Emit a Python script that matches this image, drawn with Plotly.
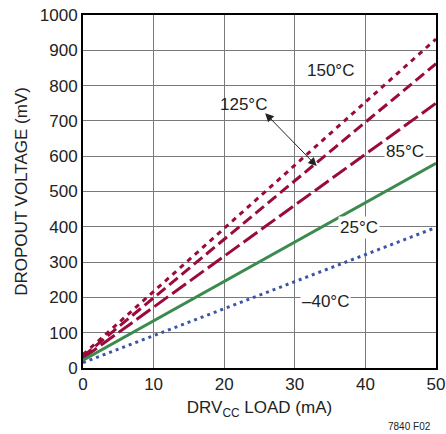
import plotly.graph_objects as go

# Dropout voltage vs DRVcc load, one straight-ish line per temperature
load_ma = [0, 50]
temps = ["150°C", "125°C", "85°C", "25°C", "–40°C"]
dropout_mv = {
    "150°C": [38, 932],
    "125°C": [33, 862],
    "85°C": [28, 750],
    "25°C": [22, 580],
    "–40°C": [15, 398],
}
x_ticks = [0, 10, 20, 30, 40, 50]
y_ticks = list(range(0, 1001, 100))

RED = "#9a0a3a"
styles = {
    "150°C": dict(color=RED, dash="5px,5px", width=3),
    "125°C": dict(color=RED, dash="11px,5px", width=3),
    "85°C": dict(color=RED, dash="17px,5px", width=3),
    "25°C": dict(color="#3b8a4e", dash="solid", width=3),
    "–40°C": dict(color="#3a55a8", dash="3px,4px", width=3),
}

FONT = "Liberation Sans Narrow, Arial Narrow, Liberation Sans, Arial, sans-serif"
TXT = "#222222"

fig = go.Figure()
for t in temps:
    fig.add_trace(go.Scatter(x=load_ma, y=dropout_mv[t], mode="lines",
                             line=styles[t], name=t, showlegend=False))

# curve labels (white boxes break the gridlines behind them)
labels = [
    ("150°C", 35.0, 844, False),
    ("125°C", 22.7, 747, False),
    ("85°C", 45.6, 612, True),
    ("25°C", 39.1, 398, True),
    ("–40°C", 34.4, 187, True),
]
for text, x, y, boxed in labels:
    fig.add_annotation(x=x, y=y, text=text, showarrow=False,
                       font=dict(family=FONT, size=17, color=TXT),
                       bgcolor="white" if boxed else "rgba(0,0,0,0)",
                       borderpad=1)

# double-headed pointer from the 125°C label to its curve
fig.add_annotation(x=33.1, y=572, ax=25.6, ay=726, xref="x", yref="y",
                   axref="x", ayref="y", text="", showarrow=True,
                   arrowhead=2, arrowsize=1.7, arrowwidth=1, arrowcolor="#222",
                   startarrowhead=2, startarrowsize=1.7, arrowside="end+start")

fig.add_annotation(x=1, y=0, xref="paper", yref="paper", xanchor="right",
                   yanchor="top", xshift=-3, yshift=-51, text="7840 F02",
                   showarrow=False, font=dict(family=FONT, size=10, color=TXT))

fig.update_xaxes(range=[0, 50], tickvals=x_ticks, showgrid=True,
                 gridcolor="#7a7a7a", gridwidth=1.2, zeroline=False,
                 showline=True, linecolor="black", linewidth=2, mirror=True,
                 ticks="", automargin=False,
                 tickfont=dict(family=FONT, size=17, color=TXT),
                 title=dict(text="DRV<sub>CC</sub> LOAD (mA)", standoff=8,
                            font=dict(family=FONT, size=17, color=TXT)))
fig.update_yaxes(range=[0, 1000], tickvals=y_ticks, showgrid=True,
                 gridcolor="#7a7a7a", gridwidth=1.2, zeroline=False,
                 showline=True, linecolor="black", linewidth=2, mirror=True,
                 ticks="", automargin=False,
                 tickfont=dict(family=FONT, size=17, color=TXT),
                 title=dict(text="DROPOUT VOLTAGE (mV)", standoff=8,
                            font=dict(family=FONT, size=17, color=TXT)))

fig.update_layout(width=446, height=434, margin=dict(l=83, r=10, t=15, b=66),
                  plot_bgcolor="white", paper_bgcolor="white")

fig.write_html("out.html")
